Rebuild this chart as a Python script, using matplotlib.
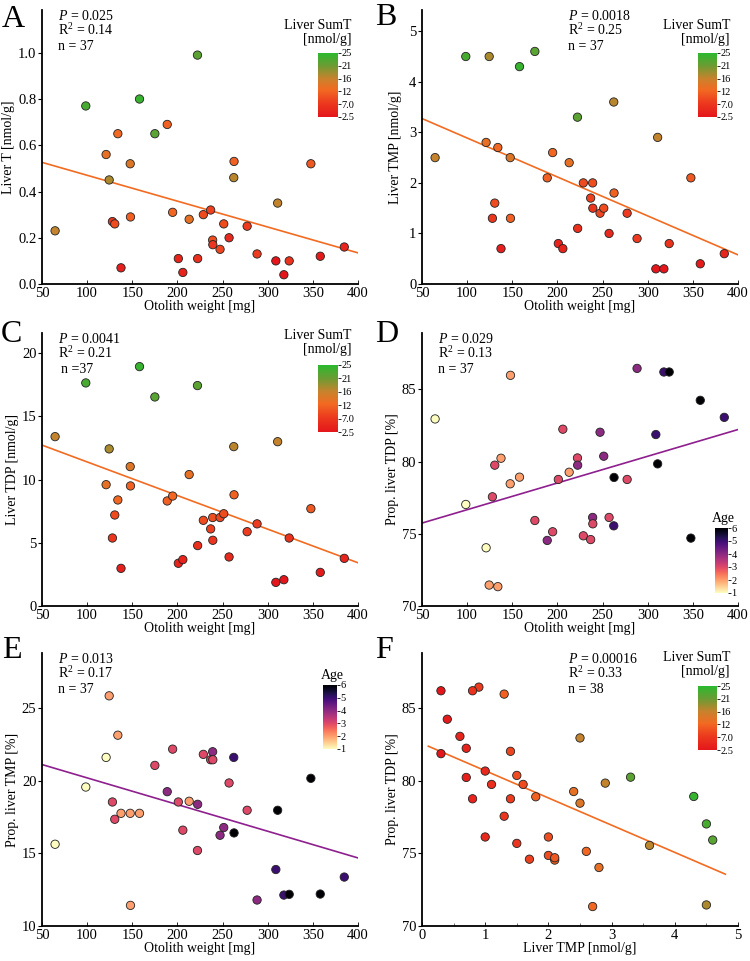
import numpy as np
import matplotlib
matplotlib.use("Agg")
import matplotlib.pyplot as plt
from matplotlib.colors import LinearSegmentedColormap, Normalize

plt.rcParams['font.family'] = ['Liberation Serif', 'DejaVu Serif']
plt.rcParams['mathtext.fontset'] = 'custom'
plt.rcParams['mathtext.rm'] = 'Liberation Serif'
plt.rcParams['mathtext.it'] = 'Liberation Serif:italic'

# per-fish values (ordered by otolith weight)
otolith_mg = [64.5, 98.5, 121, 124.4, 128, 130.6, 134, 137.5, 147.7, 148,
              158, 175, 188.7, 194.7, 201, 206, 213, 222.2, 222.4, 228.7,
              236.8, 239, 239.2, 247.2, 251.3, 257.2, 262.4, 262.7, 277.2, 288.2,
              309, 311, 317.9, 323.8, 347.8, 358.2, 384.8]
liver_t = [0.23, 0.77, 0.56, 0.45, 0.27, 0.26, 0.65, 0.07, 0.52, 0.29,
           0.80, 0.65, 0.69, 0.31, 0.11, 0.05, 0.28, 0.99, 0.11, 0.30,
           0.32, 0.19, 0.17, 0.15, 0.26, 0.20, 0.46, 0.53, 0.25, 0.13,
           0.10, 0.35, 0.04, 0.10, 0.52, 0.12, 0.16]
liver_tmp = [2.5, 4.5, 2.8, 4.5, 1.3, 1.6, 2.7, 0.7, 2.5, 1.3,
             4.3, 4.6, 2.1, 2.6, 0.8, 0.7, 2.4, 3.3, 1.1, 2.0,
             1.7, 2.0, 1.5, 1.4, 1.5, 1.0, 3.6, 1.8, 1.4, 0.9,
             0.3, 2.9, 0.3, 0.8, 2.1, 0.4, 0.6]
liver_tdp = [13.4, 17.65, 9.6, 12.43, 5.38, 7.2, 8.39, 2.98, 11.03, 9.5,
             18.94, 16.54, 8.31, 8.7, 3.38, 3.67, 10.4, 17.44, 4.78, 6.78,
             6.1, 7.0, 5.2, 7.0, 7.3, 3.88, 12.61, 8.8, 5.88, 6.5,
             1.87, 13.0, 2.08, 5.38, 7.7, 2.66, 3.77]
prop_tdp = [82.95, 77.03, 74.03, 71.45, 77.56, 79.75, 71.34, 80.23, 78.46, 85.97,
            78.92, 75.92, 74.54, 75.14, 78.76, 82.24, 79.26, 80.25, 79.75, 74.86,
            74.6, 76.13, 75.69, 82.03, 80.37, 76.13, 75.55, 78.9, 78.76, 86.45,
            81.87, 79.84, 86.2, 86.2, 74.7, 84.24, 83.06]
prop_tmp = [15.63, 19.57, 21.61, 25.85, 18.54, 17.35, 23.14, 17.76, 17.76, 11.42,
            17.76, 21.06, 19.25, 22.18, 18.54, 16.6, 18.59, 15.2, 18.38, 21.82,
            21.45, 22.0, 21.45, 16.25, 16.78, 19.85, 21.61, 16.41, 17.97, 11.79,
            13.89, 17.97, 12.13, 12.18, 20.17, 12.2, 13.37]
age = [1, 1, 1, 2, 3, 3, 2, 2, 2, 2,
       2, 3, 4, 3, 3, 3, 2, 3, 4, 3,
       3, 4, 3, 4, 4, 3, 5, 6, 3, 4,
       5, 6, 5, 6, 6, 6, 5]

# one extra fish in panel F (no otolith weight)
extra_tmp = 1.0
extra_prop_tdp = 80.67
extra_sumt = 5.0

stats = {
    'A': ('0.025', '0.14', '= 37'),
    'B': ('0.0018', '0.25', '= 37'),
    'C': ('0.0041', '0.21', '=37'),
    'D': ('0.029', '0.13', '= 37'),
    'E': ('0.013', '0.17', '= 37'),
    'F': ('0.00016', '0.33', '= 38'),
}

sumt_ticks = [2.5, 7.0, 11.5, 16, 20.5, 25]
sumt_ticklabels = ['2.5', '7.0', '12', '16', '21', '25']
age_ticks = [1, 2, 3, 4, 5, 6]

W, H = 750, 961
TICK_FS = 10.5
LABEL_FS = 10
TEXT_FS = 10


def fx(px):
    return px / W


def fy(py):
    return 1 - py / H


sumt_cmap = LinearSegmentedColormap.from_list(
    'sumt', [(0.0, '#e4161b'), (0.22, '#ec3a1e'), (0.42, '#f26a22'),
             (0.6, '#c8822c'), (0.8, '#6c9b33'), (1.0, '#2bb92f')])
sumt_norm = Normalize(2.5, 25)
age_cmap = plt.get_cmap('magma_r')
age_norm = Normalize(1, 6)

t = np.array(liver_t)
tmp = np.array(liver_tmp)
tdp = np.array(liver_tdp)
sumt = t + tmp + tdp
w = np.array(otolith_mg)

fig = plt.figure(figsize=(7.5, 9.61), dpi=100)

# axes boxes in pixels: left, top, right, bottom
boxes = {
    'A': (42, 10, 358, 284), 'B': (422, 10, 738, 284),
    'C': (42, 333, 358, 606), 'D': (422, 333, 738, 606),
    'E': (42, 653, 358, 926), 'F': (422, 653, 738, 926),
}


def make_ax(key):
    l, tp, r, b = boxes[key]
    ax = fig.add_axes([fx(l), fy(b), fx(r - l), fy(tp) - fy(b)])
    for s in ('top', 'right'):
        ax.spines[s].set_visible(False)
    for s in ('left', 'bottom'):
        ax.spines[s].set_linewidth(1.3)
    ax.tick_params(axis='y', direction='out', length=3, width=0.8, labelsize=TICK_FS, pad=1)
    ax.tick_params(axis='x', direction='in', length=3, width=0.6, labelsize=TICK_FS, pad=2)
    ax.xaxis.set_tick_params(which='minor', direction='in', length=2, width=0.4)
    return ax


def add_stats(ax, key, xfrac):
    p, r2, n = stats[key]
    ax.text(xfrac, 0.962, r'$P$ = ' + p, transform=ax.transAxes, fontsize=TEXT_FS, va='baseline')
    ax.text(xfrac, 0.908, r'R$^{2}$ = ' + r2, transform=ax.transAxes, fontsize=TEXT_FS, va='baseline')
    ax.text(xfrac + (0.01 if key == 'C' else 0), 0.855, 'n ' + n,
            transform=ax.transAxes, fontsize=TEXT_FS, va='baseline')


def fit_line(ax, x, y, x0, x1, color):
    k, c = np.polyfit(x, y, 1)
    xs = np.linspace(x0, x1, 2)
    ax.plot(xs, k * xs + c, color=color, lw=1.2, zorder=1)


def sumt_cbar(l, tp, r, b, title_right, title_base):
    cax = fig.add_axes([fx(l), fy(b), fx(r - l), fy(tp) - fy(b)])
    sm = plt.cm.ScalarMappable(norm=sumt_norm, cmap=sumt_cmap)
    cb = fig.colorbar(sm, cax=cax, ticks=sumt_ticks)
    cb.ax.set_yticklabels(sumt_ticklabels)
    cb.outline.set_visible(False)
    cb.ax.tick_params(labelsize=7.5, length=2, width=0.6, pad=0.5, colors='black')
    fig.text(fx(title_right), fy(title_base), 'Liver SumT', ha='right', va='baseline', fontsize=TEXT_FS)
    fig.text(fx(title_right), fy(title_base + 14), '[nmol/g]', ha='right', va='baseline', fontsize=TEXT_FS)


def age_cbar(l, tp, r, b, title_base):
    cax = fig.add_axes([fx(l), fy(b), fx(r - l), fy(tp) - fy(b)])
    sm = plt.cm.ScalarMappable(norm=age_norm, cmap=age_cmap)
    cb = fig.colorbar(sm, cax=cax, ticks=age_ticks)
    cb.outline.set_visible(False)
    cb.ax.tick_params(labelsize=7.5, length=2, width=0.6, pad=0.5)
    fig.text(fx((l + r) / 2 + 2), fy(title_base), 'Age', ha='center', va='baseline', fontsize=TEXT_FS)


orange = '#f26b21'
purple = '#8e1f8e'
mk = dict(s=36, edgecolors='#222222', linewidths=0.6, zorder=3)

# A
ax = make_ax('A')
fit_line(ax, w, t, 50, 400, orange)
ax.scatter(w, t, c=sumt, cmap=sumt_cmap, norm=sumt_norm, **mk)
ax.set_xlim(50, 400)
ax.set_ylim(0, 1.185)
ax.set_yticks([0, 0.2, 0.4, 0.6, 0.8, 1.0])
ax.set_yticklabels(['0.0', '0.2', '0.4', '0.6', '0.8', '1.0'])
ax.set_xlabel('Otolith weight [mg]', fontsize=LABEL_FS, labelpad=0)
ax.set_ylabel('Liver T [nmol/g]', fontsize=LABEL_FS, labelpad=2)
add_stats(ax, 'A', 0.05)
sumt_cbar(318, 53, 338, 117, 351, 29)

# B
ax = make_ax('B')
fit_line(ax, w, tmp, 50, 400, orange)
ax.scatter(w, tmp, c=sumt, cmap=sumt_cmap, norm=sumt_norm, **mk)
ax.set_xlim(50, 400)
ax.set_ylim(0, 5.42)
ax.set_yticks([0, 1, 2, 3, 4, 5])
ax.set_xlabel('Otolith weight [mg]', fontsize=LABEL_FS, labelpad=0)
ax.set_ylabel('Liver TMP [nmol/g]', fontsize=LABEL_FS, labelpad=5)
add_stats(ax, 'B', 0.463)
sumt_cbar(698, 53, 717, 117, 730, 29)

# C
ax = make_ax('C')
fit_line(ax, w, tdp, 50, 400, orange)
ax.scatter(w, tdp, c=sumt, cmap=sumt_cmap, norm=sumt_norm, **mk)
ax.set_xlim(50, 400)
ax.set_ylim(0, 21.6)
ax.set_yticks([0, 5, 10, 15, 20])
ax.set_xlabel('Otolith weight [mg]', fontsize=LABEL_FS, labelpad=0)
ax.set_ylabel('Liver TDP [nmol/g]', fontsize=LABEL_FS, labelpad=2)
add_stats(ax, 'C', 0.05)
sumt_cbar(318, 365, 338, 432, 351, 339)

# D
ax = make_ax('D')
fit_line(ax, w, prop_tdp, 50, 400, purple)
ax.scatter(w, prop_tdp, c=age, cmap=age_cmap, norm=age_norm, **mk)
ax.set_xlim(50, 400)
ax.set_ylim(70, 88.9)
ax.set_yticks([70, 75, 80, 85])
ax.set_xlabel('Otolith weight [mg]', fontsize=LABEL_FS, labelpad=0)
ax.set_ylabel('Prop. liver TDP [%]', fontsize=LABEL_FS, labelpad=2)
add_stats(ax, 'D', 0.05)
age_cbar(715, 528, 728, 593, 522)

# E
ax = make_ax('E')
fit_line(ax, w, prop_tmp, 50, 400, purple)
ax.scatter(w, prop_tmp, c=age, cmap=age_cmap, norm=age_norm, **mk)
ax.set_xlim(50, 400)
ax.set_ylim(10, 28.8)
ax.set_yticks([10, 15, 20, 25])
ax.set_xlabel('Otolith weight [mg]', fontsize=LABEL_FS, labelpad=0)
ax.set_ylabel('Prop. liver TMP [%]', fontsize=LABEL_FS, labelpad=2)
add_stats(ax, 'E', 0.05)
age_cbar(323, 685, 337, 749, 679)

# F
f_x = np.append(tmp, extra_tmp)
f_y = np.append(prop_tdp, extra_prop_tdp)
f_c = np.append(sumt, extra_sumt)
ax = make_ax('F')
fit_line(ax, f_x, f_y, 0.1, 4.8, orange)
ax.scatter(f_x, f_y, c=f_c, cmap=sumt_cmap, norm=sumt_norm, **mk)
ax.set_xlim(0, 5)
ax.set_ylim(70, 88.8)
ax.set_yticks([70, 75, 80, 85])
ax.set_xticks([0, 1, 2, 3, 4, 5])
ax.set_xticks(np.arange(0.5, 5, 1), minor=True)
ax.set_xlabel('Liver TMP [nmol/g]', fontsize=LABEL_FS, labelpad=0)
ax.set_ylabel('Prop. liver TDP [%]', fontsize=LABEL_FS, labelpad=2)
add_stats(ax, 'F', 0.463)
sumt_cbar(698, 686, 717, 750, 730, 661)

# panel letters
for key, (x, y) in {'A': (2, 27), 'B': (375, 25), 'C': (1, 342),
                    'D': (375, 342), 'E': (2, 658), 'F': (375, 658)}.items():
    fig.text(fx(x), fy(y), key, fontsize=23, va='baseline', ha='left')

fig.savefig('out.png', dpi=100)
